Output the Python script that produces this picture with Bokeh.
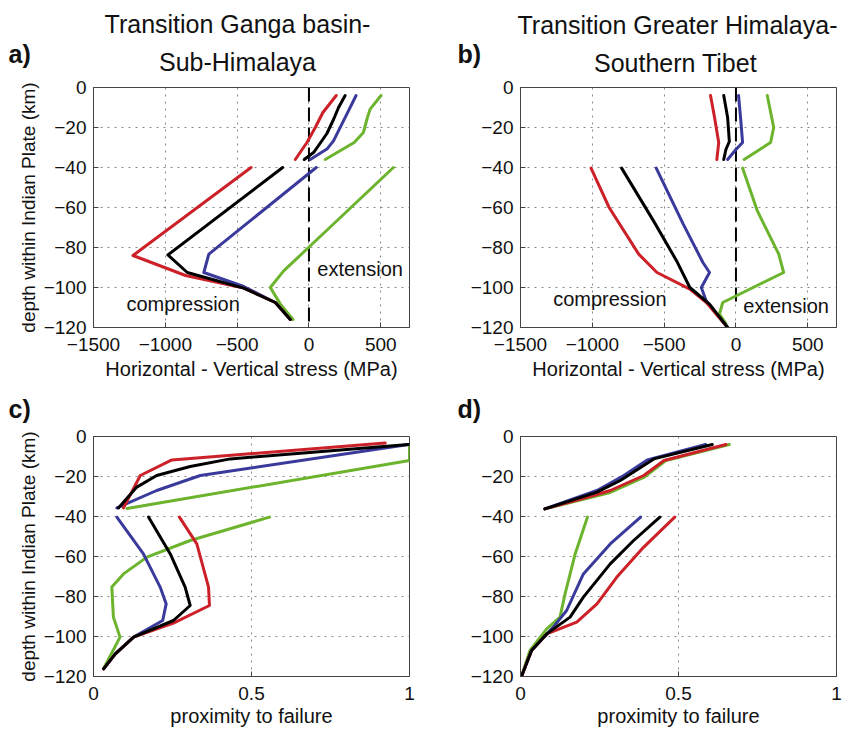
from bokeh.plotting import figure
from bokeh.models import Range1d, FixedTicker, Label
from bokeh.layouts import row, column
from bokeh.embed import file_html
from bokeh.resources import INLINE

FONT = "Liberation Sans"
RED, BLACK, BLUE, GREEN = "#cc2128", "#000000", "#3a3a9c", "#6db42e"

# ---------------- data ----------------
stress_ticks = [-1500, -1000, -500, 0, 500]
depth_ticks = [0, -20, -40, -60, -80, -100, -120]
prox_ticks = [0, 0.5, 1]

# panel a: Ganga basin - Sub-Himalaya, stress (MPa) vs depth (km)
a_red_up_x = [190, 97, 44, -14, -95]
a_red_up_d = [-4, -12.5, -20, -27.5, -36]
a_black_up_x = [252, 206, 171, 125, 67, 32, -33]
a_black_up_d = [-4, -10, -16, -23, -29, -32.5, -36]
a_blue_up_x = [328, 275, 229, 171, 125, 9]
a_blue_up_d = [-4, -11.7, -18.3, -26.7, -30.8, -36]
a_green_up_x = [502, 426, 407, 379, 315, 113]
a_green_up_d = [-4, -10.8, -15, -22.5, -27.5, -36]
a_red_lo_x = [-403, -1225, -859, -454, -234, -130]
a_red_lo_d = [-40, -84, -94, -100.3, -107.5, -116]
a_black_lo_x = [-183, -982, -847, -454, -234, -130]
a_black_lo_d = [-40, -83.7, -92.5, -100.3, -107.5, -116]
a_blue_lo_x = [51, -697, -732, -454, -234, -130]
a_blue_lo_d = [-40, -83.3, -92.5, -99.5, -107.5, -116]
a_green_lo_x = [588, -3, -176, -269, -199, -111]
a_green_lo_d = [-40, -80, -91.7, -100, -108.3, -116]
a_zero_x = [0, 0]
a_zero_d = [0, -118]

# panel b: Greater Himalaya - Southern Tibet
b_red_up_x = [-177, -149, -120, -133]
b_red_up_d = [-4, -15, -27.5, -36]
b_black_up_x = [-85, -58, -46, -70, -85]
b_black_up_d = [-4, -15, -27, -31, -36]
b_blue_up_x = [18, 34, 46, 0, -58]
b_blue_up_d = [-4, -16.7, -27.5, -31, -36]
b_green_up_x = [218, 263, 241, 57]
b_green_up_d = [-4, -20, -27.5, -36]
b_red_lo_x = [-1009, -883, -677, -550, -321, -206, -58]
b_red_lo_d = [-40.3, -60, -83.3, -92.5, -100.8, -107.5, -120]
b_black_lo_x = [-796, -574, -413, -321, -184, -58]
b_black_lo_d = [-40.3, -66.7, -86.7, -100, -108.3, -120]
b_blue_lo_x = [-555, -367, -230, -184, -241, -206, -58]
b_blue_lo_d = [-40.3, -68.3, -87.5, -92.5, -100, -107, -120]
b_green_lo_x = [46, 149, 298, 332, -92, -115, -70]
b_green_lo_d = [-40.3, -61.7, -83.3, -92.5, -107.5, -113.3, -118]
b_zero_x = [0, 0]
b_zero_d = [0, -108]

# panel c: proximity to failure
c_red_up_x = [0.923, 0.248, 0.148, 0.095]
c_red_up_d = [-3.3, -11.7, -19.5, -35.7]
c_black_up_x = [0.997, 0.433, 0.306, 0.2, 0.137, 0.079]
c_black_up_d = [-4, -11.2, -15, -19.5, -25.3, -35.7]
c_blue_up_x = [0.997, 0.338, 0.2, 0.074]
c_blue_up_d = [-4, -19.5, -27, -35.7]
c_green_up_x = [1.0, 1.0, 0.106]
c_green_up_d = [-4, -12, -36]
c_red_lo_x = [0.272, 0.327, 0.364, 0.367, 0.253, 0.127, 0.069, 0.032]
c_red_lo_d = [-40.3, -53.7, -75.3, -84.5, -93.3, -100.3, -108.7, -116.2]
c_black_lo_x = [0.174, 0.243, 0.29, 0.306, 0.253, 0.127, 0.069, 0.032]
c_black_lo_d = [-40.3, -58.7, -75.3, -84.5, -92, -100.3, -108.7, -116.2]
c_blue_lo_x = [0.074, 0.158, 0.211, 0.23, 0.219, 0.127, 0.069, 0.032]
c_blue_lo_d = [-40.3, -58.7, -75.3, -83.7, -92, -100.3, -108.7, -116.2]
c_green_lo_x = [0.557, 0.306, 0.169, 0.095, 0.058, 0.063, 0.084, 0.032]
c_green_lo_d = [-40.3, -52, -60.3, -68.7, -75.3, -90.3, -100.3, -116]

# panel d
d_red_up_x = [0.65, 0.454, 0.39, 0.284, 0.231, 0.077]
d_red_up_d = [-4, -12, -19.5, -27, -29.5, -36.2]
d_black_up_x = [0.607, 0.422, 0.316, 0.242, 0.077]
d_black_up_d = [-4, -11.2, -22, -27.8, -36.2]
d_blue_up_x = [0.586, 0.401, 0.327, 0.242, 0.077]
d_blue_up_d = [-4, -11.7, -19.5, -27, -36.2]
d_green_up_x = [0.661, 0.46, 0.39, 0.284, 0.077]
d_green_up_d = [-4, -12, -20.5, -28, -36.2]
d_red_lo_x = [0.488, 0.39, 0.305, 0.242, 0.178, 0.083, 0.035, 0.003]
d_red_lo_d = [-40.3, -55.3, -70.3, -83.7, -92.8, -98.7, -107, -120]
d_black_lo_x = [0.441, 0.358, 0.284, 0.199, 0.157, 0.083, 0.035, 0.003]
d_black_lo_d = [-40.3, -52, -63.7, -80.3, -90.3, -98.7, -107, -120]
d_blue_lo_x = [0.38, 0.284, 0.199, 0.146, 0.104, 0.035, 0.003]
d_blue_lo_d = [-40.3, -53.7, -68.7, -87, -95.3, -107, -120]
d_green_lo_x = [0.212, 0.173, 0.141, 0.125, 0.083, 0.03, 0.003]
d_green_lo_d = [-40.3, -58.7, -78.7, -90.3, -96.2, -107, -120]


def make_fig(width, height, ml, mr, mt, mb, xr, xticks, xlabel, xlab_standoff, ylabel=None):
    p = figure(width=width, height=height, x_range=Range1d(*xr), y_range=Range1d(-120, 0),
               output_backend="svg", toolbar_location=None, title_location=None,
               min_border_left=ml, min_border_right=mr, min_border_top=mt, min_border_bottom=mb)
    p.background_fill_color = "white"
    p.border_fill_color = "white"
    p.outline_line_color = "#444444"
    p.outline_line_width = 1
    for ax, ticks in ((p.xaxis[0], xticks), (p.yaxis[0], depth_ticks)):
        ax.ticker = FixedTicker(ticks=ticks)
        ax.major_tick_in = 5
        ax.major_tick_out = 0
        ax.minor_tick_line_color = None
        ax.axis_line_color = "#444444"
        ax.major_tick_line_color = "#444444"
        ax.major_label_text_font = FONT
        ax.major_label_text_font_size = "19px"
        ax.major_label_text_color = "#111111"
        ax.axis_label_text_font = FONT
        ax.axis_label_text_font_style = "normal"
        ax.axis_label_text_color = "#111111"
    p.yaxis[0].major_label_standoff = 7
    p.xaxis[0].major_label_standoff = 10
    if xticks == prox_ticks:
        p.xaxis[0].major_label_overrides = {0: "0", 0.5: "0.5", 1: "1"}
    p.xaxis[0].axis_label = xlabel
    p.xaxis[0].axis_label_text_font_size = "20px"
    p.xaxis[0].axis_label_standoff = xlab_standoff
    if ylabel:
        p.yaxis[0].axis_label = ylabel
        p.yaxis[0].axis_label_text_font_size = "19px"
        p.yaxis[0].axis_label_standoff = 2
    p.xgrid[0].ticker = p.xaxis[0].ticker
    p.ygrid[0].ticker = p.yaxis[0].ticker
    for g in (p.xgrid[0], p.ygrid[0]):
        g.grid_line_color = "#888888"
        g.grid_line_dash = "2 5"
        g.grid_line_width = 1
    return p


def header(width, height, items):
    """Strip above a panel carrying its title lines and panel letter."""
    h = figure(width=width, height=height, x_range=Range1d(0, 1), y_range=Range1d(0, 1),
               output_backend="svg", toolbar_location=None, title_location=None,
               x_axis_location=None, y_axis_location=None, min_border=0,
               outline_line_color=None)
    h.grid.visible = False
    h.background_fill_color = "white"
    h.border_fill_color = "white"
    for text, x, y, bold, align in items:
        h.add_layout(Label(x=x, y=y, x_units="screen", y_units="screen", text=text,
                           text_font=FONT, text_font_size="25px",
                           text_font_style="bold" if bold else "normal",
                           text_align=align, text_baseline="middle", text_color="#111111"))
    return h


def note(p, text, x, y):
    p.add_layout(Label(x=x, y=y, text=text, text_font=FONT, text_font_size="20px",
                       text_align="center", text_baseline="middle", text_color="#111111"))


def lines(p, series):
    for xs, ds, c in series:
        p.line(xs, ds, line_color=c, line_width=3, line_join="round", line_cap="round")


YLAB = "depth within Indian Plate (km)"
XLAB_S = "Horizontal - Vertical stress (MPa)"
XLAB_P = "proximity to failure"

ha = header(424, 78, [("Transition Ganga basin-", 237, 54.7, False, "center"),
                      ("Sub-Himalaya", 237, 16.7, False, "center"),
                      ("a)", 8, 24.7, True, "left")])
hb = header(424, 78, [("Transition Greater Himalaya-", 253, 53.7, False, "center"),
                      ("Southern Tibet", 251, 15.2, False, "center"),
                      ("b)", 33, 24.7, True, "left")])
hc = header(424, 42, [("c)", 8, 19, True, "left")])
hd = header(424, 42, [("d)", 33, 19, True, "left")])

pa = make_fig(424, 307, 93, 15, 9, 58, (-1500, 700), stress_ticks, XLAB_S, 4, YLAB)
pb = make_fig(424, 307, 96, 12, 9, 58, (-1500, 700), stress_ticks, XLAB_S, 4)
pc = make_fig(424, 303, 93, 15, 9, 54, (0, 1), prox_ticks, XLAB_P, 2, YLAB)
pd = make_fig(424, 303, 96, 12, 9, 54, (0, 1), prox_ticks, XLAB_P, 2)

for p, zx, zd in ((pa, a_zero_x, a_zero_d), (pb, b_zero_x, b_zero_d)):
    p.line(zx, zd, line_color="black", line_width=2, line_dash="14 6")

lines(pa, [(a_green_up_x, a_green_up_d, GREEN), (a_blue_up_x, a_blue_up_d, BLUE),
           (a_red_up_x, a_red_up_d, RED), (a_black_up_x, a_black_up_d, BLACK),
           (a_green_lo_x, a_green_lo_d, GREEN), (a_blue_lo_x, a_blue_lo_d, BLUE),
           (a_red_lo_x, a_red_lo_d, RED), (a_black_lo_x, a_black_lo_d, BLACK)])
lines(pb, [(b_green_up_x, b_green_up_d, GREEN), (b_blue_up_x, b_blue_up_d, BLUE),
           (b_red_up_x, b_red_up_d, RED), (b_black_up_x, b_black_up_d, BLACK),
           (b_green_lo_x, b_green_lo_d, GREEN), (b_blue_lo_x, b_blue_lo_d, BLUE),
           (b_red_lo_x, b_red_lo_d, RED), (b_black_lo_x, b_black_lo_d, BLACK)])
lines(pc, [(c_green_up_x, c_green_up_d, GREEN), (c_blue_up_x, c_blue_up_d, BLUE),
           (c_red_up_x, c_red_up_d, RED), (c_black_up_x, c_black_up_d, BLACK),
           (c_green_lo_x, c_green_lo_d, GREEN), (c_blue_lo_x, c_blue_lo_d, BLUE),
           (c_red_lo_x, c_red_lo_d, RED), (c_black_lo_x, c_black_lo_d, BLACK)])
lines(pd, [(d_green_up_x, d_green_up_d, GREEN), (d_blue_up_x, d_blue_up_d, BLUE),
           (d_red_up_x, d_red_up_d, RED), (d_black_up_x, d_black_up_d, BLACK),
           (d_green_lo_x, d_green_lo_d, GREEN), (d_blue_lo_x, d_blue_lo_d, BLUE),
           (d_red_lo_x, d_red_lo_d, RED), (d_black_lo_x, d_black_lo_d, BLACK)])

# in-panel annotations (data units)
note(pa, "extension", 356, -90.7)
note(pa, "compression", -876, -108.2)
note(pb, "compression", -878, -105.7)
note(pb, "extension", 349, -109)

layout = column(row(ha, hb), row(pa, pb), row(hc, hd), row(pc, pd))
open("out.html", "w").write(file_html(layout, INLINE))
